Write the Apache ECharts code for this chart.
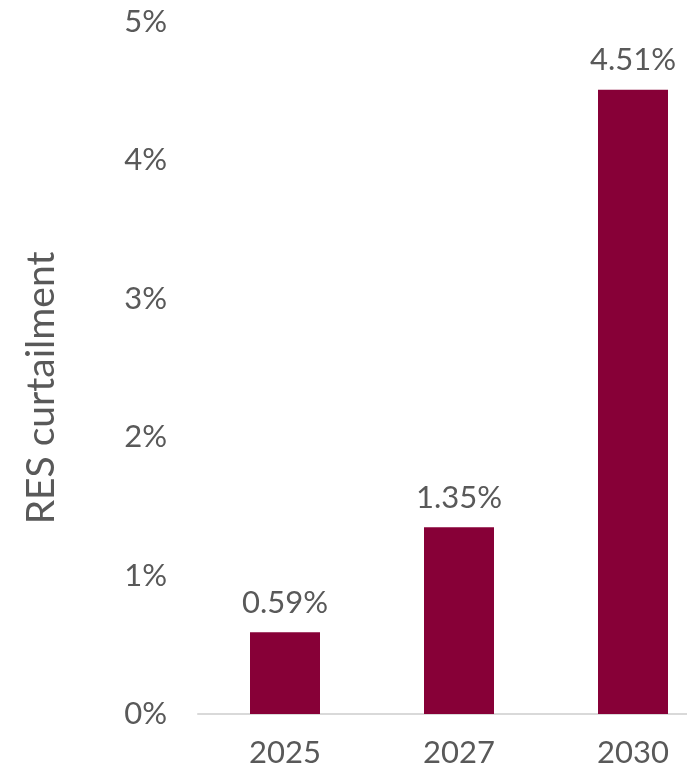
<!DOCTYPE html>
<html>
<head>
<meta charset="utf-8">
<script src="https://cdn.jsdelivr.net/npm/echarts@6/dist/echarts.min.js"></script>
<style>
  html, body { margin: 0; padding: 0; background: #fff; }
  #main { width: 687px; height: 771px; }
</style>
</head>
<body>
<div id="main"></div>
<script>
const years = ['2025', '2027', '2030'];
const curtailment = [0.59, 1.35, 4.51];
const yTicks = [0, 1, 2, 3, 4, 5];

let chart = echarts.init(document.getElementById('main'));
let option = {
  animation: false,
  textStyle: { fontFamily: 'Lato' },
  // plot area runs past the right edge, like the cropped original
  grid: { left: 198, width: 522, top: 22, bottom: 57, outerBoundsMode: 'none' },
  xAxis: {
    type: 'category',
    data: years,
    axisLine: { lineStyle: { color: '#d9d9d9', width: 2 } },
    axisTick: { show: false },
    axisLabel: { color: '#595959', fontSize: 31, margin: 23 }
  },
  yAxis: {
    type: 'value',
    min: yTicks[0],
    max: yTicks[yTicks.length - 1],
    interval: 1,
    name: 'RES curtailment',
    nameLocation: 'middle',
    nameGap: 137,
    nameTextStyle: { color: '#595959', fontSize: 39, padding: [0, 40, 0, 0] },
    splitLine: { show: false },
    axisLine: { show: false },
    axisTick: { show: false },
    axisLabel: { color: '#595959', fontSize: 31, margin: 31, formatter: v => v + '%' }
  },
  series: [{
    type: 'bar',
    data: curtailment,
    barWidth: 70,
    itemStyle: { color: '#870037' },
    label: {
      show: true,
      position: 'top',
      distance: 14,
      color: '#595959',
      fontSize: 31,
      formatter: p => p.value.toFixed(2) + '%'
    }
  }]
};
chart.setOption(option);
</script>
</body>
</html>
